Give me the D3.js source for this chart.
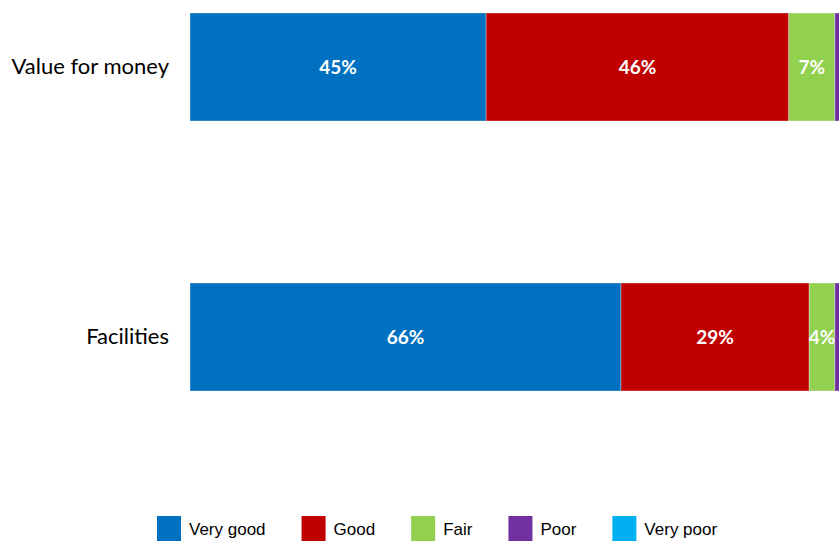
<!DOCTYPE html>
<html>
<head>
<meta charset="utf-8">
<script src="https://cdn.jsdelivr.net/npm/d3@7"></script>
<style>
  html, body { margin: 0; padding: 0; background: #fff; overflow: hidden; }
  svg { display: block; }
</style>
</head>
<body>
<div id="chart"></div>
<script>
/* Stacked satisfaction bars: two categories, five ratings */

const CATEGORIES = ["Value for money", "Facilities"];
const RATINGS = ["Very good", "Good", "Fair", "Poor", "Very poor"];
const RATING_COLOR = ["#0070C0", "#C00000", "#92D050", "#7030A0", "#00B0F0"];
// percentages per rating, same order as CATEGORIES
const VERY_GOOD = [45, 65.5];
const GOOD      = [46, 28.6];
const FAIR      = [7, 3.9];
const POOR      = [1.5, 1.5];
const VERY_POOR = [0.5, 0.5];

const SERIES = [VERY_GOOD, GOOD, FAIR, POOR, VERY_POOR];

(function () {
  const W = 839, H = 543;
  const svg = d3.select("#chart").append("svg")
    .attr("width", W).attr("height", H);

  const rows = CATEGORIES.map((c, i) => {
    const r = { category: c };
    RATINGS.forEach((k, j) => r[k] = SERIES[j][i]);
    return r;
  });
  const stacked = d3.stack().keys(RATINGS)(rows);

  /* plot area runs a little past the right edge, as in the original */
  const x = d3.scaleLinear().domain([0, 100]).range([190, 848]);
  const y = d3.scaleBand().domain(CATEGORIES).range([13, 391])
    .paddingInner(0.6).paddingOuter(0);
  const color = d3.scaleOrdinal().domain(RATINGS).range(RATING_COLOR);

  /* Category axis (no line, no ticks) */
  const ax = svg.append("g").attr("transform", `translate(${x(0)},0)`)
    .call(d3.axisLeft(y).tickSize(0).tickPadding(21));
  ax.select(".domain").remove();
  ax.selectAll("text")
    .style("font-family", "Lato, 'Open Sans', sans-serif")
    .style("font-size", "22px").style("fill", "#000");

  /* Segments */
  const layers = svg.append("g").selectAll("g").data(stacked).enter().append("g")
    .attr("fill", d => color(d.key));

  layers.selectAll("rect").data(d => d).enter().append("rect")
    .attr("x", d => x(d[0]))
    .attr("width", d => x(d[1]) - x(d[0]))
    .attr("y", d => y(d.data.category))
    .attr("height", y.bandwidth())
    .attr("stroke", "#fff").attr("stroke-opacity", 0.45).attr("stroke-width", 0.75);

  /* Value labels (skip the slivers) */
  layers.selectAll("text").data(d => d.filter(s => s[1] - s[0] >= 3)).enter().append("text")
    .attr("x", d => (x(d[0]) + x(d[1])) / 2)
    .attr("y", d => y(d.data.category) + y.bandwidth() / 2)
    .attr("dy", "0.36em")
    .attr("text-anchor", "middle")
    .style("font-family", "Lato, 'Open Sans', sans-serif")
    .style("font-size", "19px").style("font-weight", "700").style("fill", "#fff")
    .text(d => Math.round(d[1] - d[0]) + "%");

  /* Legend */
  const legend = svg.append("g").attr("transform", "translate(157,516)");
  let lx = 0;
  RATINGS.forEach(k => {
    const item = legend.append("g").attr("transform", `translate(${lx},0)`);
    item.append("rect").attr("width", 24).attr("height", 25)
      .attr("fill", color(k));
    const t = item.append("text").attr("x", 32).attr("y", 13).attr("dy", "0.35em")
      .style("font-family", "'Liberation Sans', Arial, sans-serif")
      .style("font-size", "17px").style("fill", "#000")
      .text(k);
    lx += 32 + t.node().getComputedTextLength() + 36;
  });
})();
</script>
</body>
</html>
